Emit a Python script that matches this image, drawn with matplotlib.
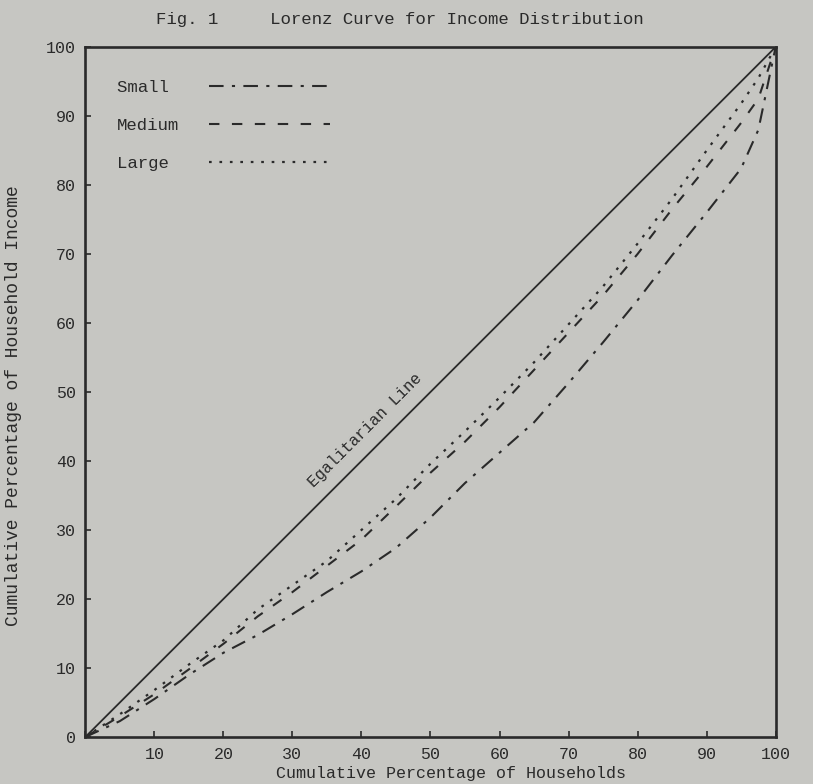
import numpy as np
import matplotlib
matplotlib.use('Agg')
import matplotlib.pyplot as plt

# cumulative % of households (x) and income (y)
x = [0, 5, 10, 15, 20, 25, 30, 35, 40, 45, 50, 55, 60, 65, 70, 75, 80, 85, 90, 95, 97.5, 100]
small = [0, 2.3, 5.5, 9, 12.2, 14.8, 17.8, 21, 24, 27.4, 31.8, 36.8, 41.2, 45.6, 51.3, 57.2, 63.3, 69.8, 76, 82.4, 88, 100]
medium = [0, 3, 6.2, 9.8, 13.5, 17.5, 21, 24.8, 28.6, 33.4, 38.3, 42.8, 47.8, 53.2, 58.6, 64, 70, 76.5, 82.6, 89, 92.5, 100]
large = [0, 3.3, 6.8, 10.5, 14, 18.5, 22, 25.5, 30, 34.5, 39.6, 44.3, 49.2, 54.3, 59.8, 65.3, 71.5, 78, 85, 91.8, 95.5, 100]
ticks = list(range(0, 101, 10))

BG = '#c6c6c2'
INK = '#2a2a2a'
plt.rcParams['font.family'] = ['Liberation Mono', 'DejaVu Sans Mono']

fig = plt.figure(figsize=(8.13, 7.84), dpi=100, facecolor=BG)
ax = fig.add_axes([0.105, 0.060, 0.849, 0.880], facecolor=BG)

ax.plot([0, 100], [0, 100], color=INK, lw=1.3)
ax.plot(x, small, color=INK, lw=1.5, dashes=(7, 4, 1.5, 4), label='Small ')
ax.plot(x, medium, color=INK, lw=1.5, dashes=(5, 6), label='Medium')
ax.plot(x, large, color=INK, lw=1.6, dashes=(1.2, 3.5), label='Large ')

ax.text(40.5, 44.5, 'Egalitarian Line', rotation=45, ha='center', va='center',
        fontsize=11.5, color=INK, rotation_mode='anchor')

ax.set_xlim(0, 100)
ax.set_ylim(0, 100)
ax.set_xticks(ticks)
ax.set_xticklabels([''] + [str(t) for t in ticks[1:]])
ax.set_yticks(ticks)
ax.tick_params(direction='in', length=4, width=1.2, colors=INK, labelsize=12, pad=7)
for s in ax.spines.values():
    s.set_linewidth(1.9)
    s.set_color(INK)

ax.set_xlabel('Cumulative Percentage of Households', fontsize=12, color=INK)
ax.set_ylabel('Cumulative Percentage of Household Income', fontsize=13, color=INK)
ax.xaxis.set_label_coords(0.53, -0.042)
ax.yaxis.set_label_coords(-0.092, 0.48)
fig.text(0.492, 0.975, 'Fig. 1     Lorenz Curve for Income Distribution',
         ha='center', va='center', fontsize=12.5, color=INK)

leg = ax.legend(loc='upper left', bbox_to_anchor=(0.046, 0.952), frameon=False,
                borderaxespad=0, borderpad=0,
                markerfirst=False, handlelength=7, handletextpad=1.7,
                labelspacing=1.3, fontsize=12.5)
for t in leg.get_texts():
    t.set_color(INK)

plt.savefig('out.png', dpi=100, facecolor=BG)
